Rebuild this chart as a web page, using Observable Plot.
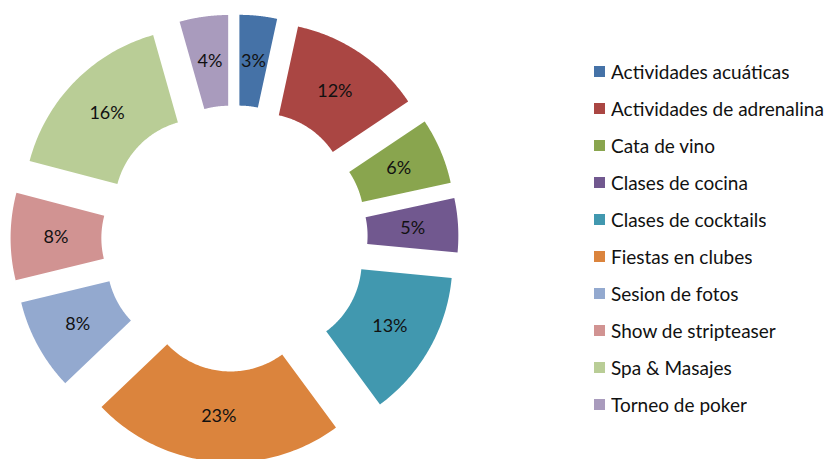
<!DOCTYPE html>
<html><head><meta charset="utf-8">
<script src="https://cdn.jsdelivr.net/npm/d3@7"></script>
<script src="https://cdn.jsdelivr.net/npm/@observablehq/plot@0.6"></script>
<style>
body{margin:0;background:#fff;}
#wrap{position:relative;width:825px;height:459px;overflow:hidden;background:#fff;}
#chart{position:absolute;left:0;top:0;}
#legend{position:absolute;left:594px;top:53px;}
.lg-swatches{font-family:Lato,sans-serif;font-size:19px;color:#111;margin:0;}
.lg-swatch{height:36px;}
.lg-swatch > svg{margin-right:6px;}
</style></head><body>
<div id="wrap"><div id="chart"></div><div id="legend"></div></div>
<script>
const categories = ["Actividades acuáticas","Actividades de adrenalina","Cata de vino","Clases de cocina","Clases de cocktails","Fiestas en clubes","Sesion de fotos","Show de stripteaser","Spa & Masajes","Torneo de poker"];
const values = [3.4,12.2,6.0,4.9,13.4,23.0,8.3,7.9,16.5,4.4];
const colors = ["#4572A7","#AA4643","#89A54E","#71588F","#4198AF","#DB843D","#93A9CF","#D19392","#B9CD96","#A99BBD"];

const outerR = 1, innerR = 0.49, explode = 0.258;
const pxPerUnit = 178, cx = 234, cy = 238, W = 470, H = 459;
const total = d3.sum(values);
const arcs = d3.pie().sort(null).value(d => d)(values);

const polys = [];
const labels = [];
arcs.forEach((p, i) => {
  const mid = (p.startAngle + p.endAngle) / 2;
  const ox = Math.sin(mid) * explode, oy = Math.cos(mid) * explode;
  const n = 80;
  const pts = [];
  for (let k = 0; k <= n; k++) {
    const a = p.startAngle + (p.endAngle - p.startAngle) * k / n;
    pts.push([Math.sin(a) * outerR + ox, Math.cos(a) * outerR + oy]);
  }
  for (let k = n; k >= 0; k--) {
    const a = p.startAngle + (p.endAngle - p.startAngle) * k / n;
    pts.push([Math.sin(a) * innerR + ox, Math.cos(a) * innerR + oy]);
  }
  pts.push(pts[0]);
  pts.forEach(([x, y]) => polys.push({cat: categories[i], x, y}));
  const lr = (outerR + innerR) / 2 + explode;
  labels.push({x: Math.sin(mid) * lr, y: Math.cos(mid) * lr, text: Math.round(values[i] / total * 100) + "%"});
});

const chart = Plot.plot({
  width: W, height: H,
  margin: 0,
  style: {background: "transparent", overflow: "visible"},
  x: {domain: [-cx / pxPerUnit, (W - cx) / pxPerUnit], axis: null},
  y: {domain: [-(H - cy) / pxPerUnit, cy / pxPerUnit], axis: null},
  color: {domain: categories, range: colors},
  marks: [
    Plot.line(polys, {x: "x", y: "y", z: "cat", fill: "cat", stroke: "none", curve: "linear"}),
    Plot.text(labels, {x: "x", y: "y", text: "text", fontSize: 18, fontFamily: "Lato, sans-serif", fill: "#111"})
  ]
});
document.getElementById("chart").appendChild(chart);

const legend = Plot.legend({
  color: {domain: categories, range: colors},
  legend: "swatches",
  columns: 1,
  swatchSize: 11,
  className: "lg"
});
document.getElementById("legend").appendChild(legend);
</script>
</body></html>
